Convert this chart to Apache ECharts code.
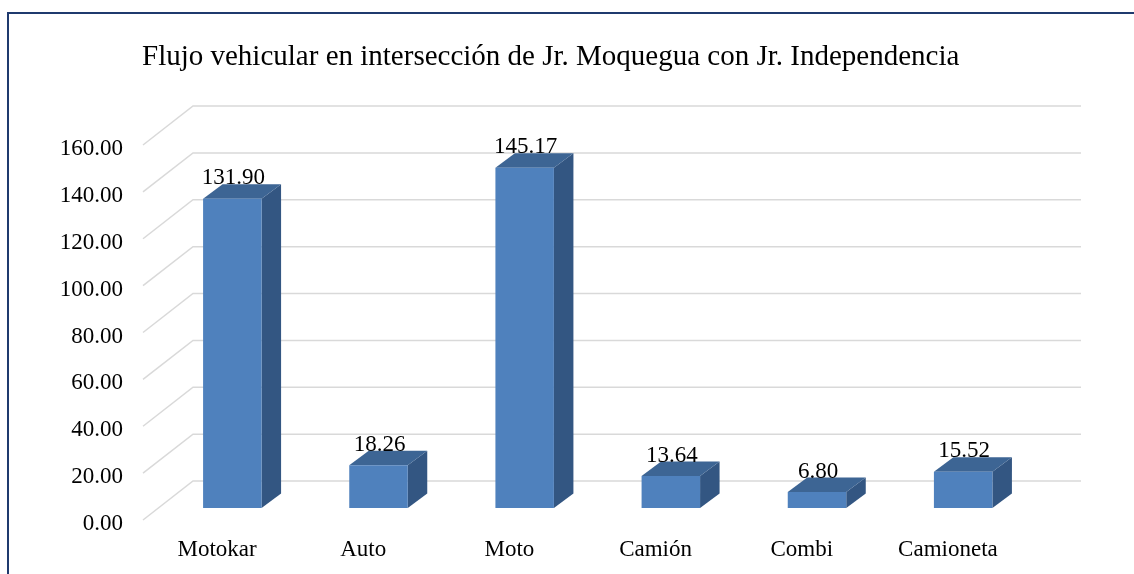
<!DOCTYPE html>
<html>
<head>
<meta charset="utf-8">
<script src="https://cdn.jsdelivr.net/npm/echarts@6/dist/echarts.min.js"></script>
<style>
  html, body { margin: 0; padding: 0; background: #fff; }
  #flujoChart { width: 1134px; height: 574px; }
</style>
</head>
<body>
<div id="flujoChart"></div>
<script>
// Flujo vehicular - Jr. Moquegua / Jr. Independencia
var categorias = ['Motokar', 'Auto', 'Moto', 'Camión', 'Combi', 'Camioneta'];
var valores = [131.90, 18.26, 145.17, 13.64, 6.80, 15.52];
var ticksY = [0, 20, 40, 60, 80, 100, 120, 140, 160];

var fuente = "'Liberation Serif', 'Times New Roman', serif";
var colorFrente = '#4F81BD';
var colorTapa = '#3D6594';
var colorLado = '#335682';

function dibujarPared(params, api) {
	var cs = params.coordSys;
	var p = api.coord([0, api.value(1)]);
	var x0 = cs.x - 1;
	var y = p[1];
	return {
		type: 'polyline',
		shape: { points: [[x0, y], [x0 + 50, y - 39], [cs.x + cs.width + 60, y - 39]] },
		style: { stroke: '#D9D9D9', lineWidth: 1.5, fill: null },
		silent: true
	};
}

function dibujarBarra(params, api) {
	var idx = api.value(0);
	var base = api.coord([idx, 0]);
	var tope = api.coord([idx, api.value(1)]);
	var x1 = base[0] - 14;
	var x2 = x1 + 58.5;
	var yb = base[1] - 12;
	var yt = tope[1] - 12;
	var dx = 19.5, dy = 14.5;
	return {
		type: 'group',
		children: [
			{
				type: 'polygon',
				shape: { points: [[x2, yb], [x2 + dx, yb - dy], [x2 + dx, yt - dy], [x2, yt]] },
				style: { fill: colorLado }
			},
			{
				type: 'polygon',
				shape: { points: [[x1, yt], [x2, yt], [x2 + dx, yt - dy], [x1 + dx, yt - dy]] },
				style: { fill: colorTapa }
			},
			{
				type: 'rect',
				shape: { x: x1, y: yt, width: x2 - x1, height: yb - yt },
				style: { fill: colorFrente }
			},
			{
				type: 'text',
				style: {
					text: api.value(1).toFixed(2),
					x: (x1 + x2) / 2 + 1,
					y: yt - dy - 6,
					align: 'center',
					verticalAlign: 'middle',
					font: '23px ' + fuente,
					fill: '#000'
				},
				z2: 10
			}
		]
	};
}

var option = {
	animation: false,
	backgroundColor: '#fff',
	title: {
		text: 'Flujo vehicular en intersección de Jr. Moquegua con Jr. Independencia',
		left: 137,
		top: 38,
		textStyle: { fontFamily: fuente, fontSize: 29, fontWeight: 'normal', color: '#000' }
	},
	graphic: [
		{
			type: 'rect',
			shape: { x: 8, y: 13, width: 1140, height: 600 },
			style: { fill: null, stroke: '#1F3A6E', lineWidth: 2 },
			silent: true
		}
	],
	grid: { left: 144, right: 113, top: 145, bottom: 54 },
	xAxis: {
		type: 'category',
		data: categorias,
		axisLine: { show: false },
		axisTick: { show: false },
		axisLabel: { margin: 18, fontFamily: fuente, fontSize: 23, color: '#000' }
	},
	yAxis: {
		type: 'value',
		min: 0,
		max: 160,
		interval: 20,
		splitLine: { show: false },
		axisLine: { show: false },
		axisTick: { show: false },
		axisLabel: {
			margin: 21,
			fontFamily: fuente,
			fontSize: 23,
			color: '#000',
			verticalAlign: 'top',
			lineHeight: 8,
			formatter: function (v) { return v.toFixed(2); }
		}
	},
	series: [
		{
			type: 'custom',
			name: 'pared',
			renderItem: dibujarPared,
			data: ticksY.map(function (t) { return [0, t]; }),
			encode: { x: 0, y: 1 },
			z: 1,
			silent: true
		},
		{
			type: 'custom',
			name: 'Flujo',
			renderItem: dibujarBarra,
			data: valores.map(function (v, i) { return [i, v]; }),
			encode: { x: 0, y: 1 },
			z: 5
		}
	]
};

var grafico = echarts.init(document.getElementById('flujoChart'));
grafico.setOption(option);
</script>
</body>
</html>
